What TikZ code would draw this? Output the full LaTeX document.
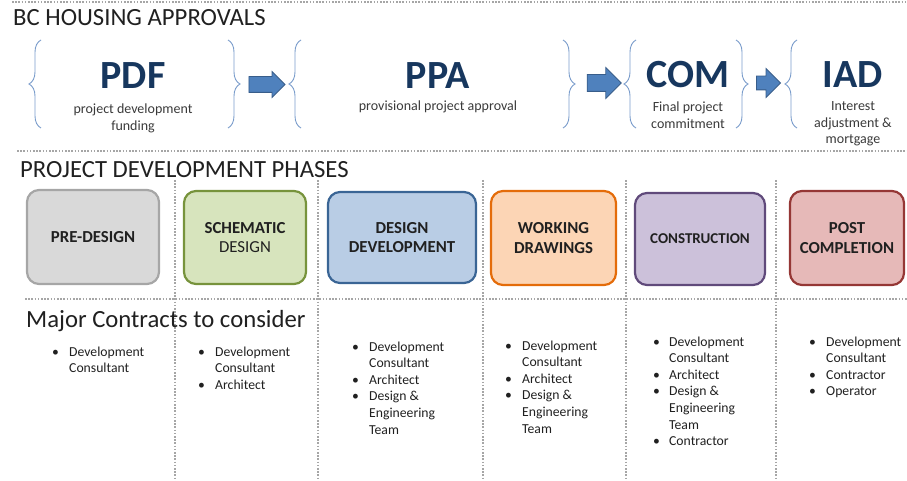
\documentclass[tikz,border=0pt]{standalone}
\usepackage{fontspec}
\setmainfont{Carlito}
\usetikzlibrary{decorations.pathreplacing,shapes.arrows}
\definecolor{navy}{HTML}{17375E}
\definecolor{txt}{HTML}{202020}
\definecolor{subtxt}{HTML}{3A3A3A}
\definecolor{bracec}{HTML}{7A9CCB}
\definecolor{dotc}{HTML}{A6A6A6}
\definecolor{arrfill}{HTML}{4F81BD}
\definecolor{arrdraw}{HTML}{385D8A}
\definecolor{grayfill}{HTML}{D9D9D9}\definecolor{graydraw}{HTML}{A6A6A6}
\definecolor{greenfill}{HTML}{D7E4BD}\definecolor{greendraw}{HTML}{77933C}
\definecolor{bluefill}{HTML}{B9CDE5}\definecolor{bluedraw}{HTML}{3A6595}
\definecolor{orangefill}{HTML}{FCD5B5}\definecolor{orangedraw}{HTML}{E46C0A}
\definecolor{purplefill}{HTML}{CCC1DA}\definecolor{purpledraw}{HTML}{604A7B}
\definecolor{redfill}{HTML}{E6B9B8}\definecolor{reddraw}{HTML}{953735}
\begin{document}
\begin{tikzpicture}[x=1pt,y=-1pt,
  dotline/.style={draw=dotc, line width=1.6pt, dash pattern=on 1.6pt off 1.6pt},
  bracepath/.style={draw=bracec, line width=0.9pt, decorate, decoration={brace, amplitude=12pt}},
  acro/.style={font=\fontsize{40}{44}\selectfont\bfseries, text=navy, anchor=base, inner sep=0},
  subt/.style={font=\fontsize{14}{16.3}\selectfont, text=subtxt, anchor=base, inner sep=0},
  head/.style={font=\fontsize{24.7}{28}\selectfont, text=txt, anchor=base west, inner sep=0},
  phasebox/.style={rounded corners=12pt, line width=2.2pt, align=center, font=\fontsize{16.8}{19.5}\selectfont\bfseries, text=txt, inner sep=0},
  blist/.style={font=\fontsize{13.7}{16.6}\selectfont, text=txt, anchor=base west, inner sep=0},
  blockarrow/.style={single arrow, fill=arrfill, draw=arrdraw, line width=0.8pt, inner xsep=0, single arrow tip angle=90}
]
\useasboundingbox (0,0) rectangle (907,481);

% dotted separators
\draw[dotline] (12,2) -- (907,2);
\draw[dotline] (17,151) -- (907,151);
\draw[dotline] (25,299) -- (907,299);
\foreach \xx in {175,318,483,626,776} \draw[dotline] (\xx,180) -- (\xx,481);

% headings
\node[head] (h1) at (13,26) {BC HOUSING APPROVALS};
\node[head] (h2) at (20,178) {PROJECT DEVELOPMENT PHASES};
\node[head] (h3) at (26,327) {Major Contracts to consider};

% approval groups
\draw[bracepath] (41,128) -- (41,40);
\draw[bracepath] (228,40) -- (228,128);
\node[acro] (pdf) at (133,89) {PDF};
\node[subt] (pdfs) at (133,114) {\begin{tabular}[t]{@{}c@{}}project development\\funding\end{tabular}};

\draw[bracepath] (301,128) -- (301,40);
\draw[bracepath] (563,40) -- (563,128);
\node[acro] (ppa) at (438,89) {PPA};
\node[subt] (ppas) at (438,111) {provisional project approval};

\draw[bracepath] (636,128) -- (636,40);
\draw[bracepath] (736,40) -- (736,128);
\node[acro] (com) at (688,88) {COM};
\node[subt] (coms) at (688,112) {\begin{tabular}[t]{@{}c@{}}Final project\\commitment\end{tabular}};

\draw[bracepath] (797,128) -- (797,40);
\node[acro] (iad) at (853,88) {IAD};
\node[subt] (iads) at (853,111) {\begin{tabular}[t]{@{}c@{}}Interest\\adjustment \&\\mortgage\end{tabular}};

% block arrows
\node[blockarrow, inner ysep=7.5pt, single arrow head extend=5pt, minimum height=36pt] (ar1) at (263,84.5) {};
\node[blockarrow, inner ysep=8pt, single arrow head extend=7pt, minimum height=34pt] (ar2) at (600,83) {};
\node[blockarrow, inner ysep=6.5pt, single arrow head extend=7.5pt, minimum height=24pt] (ar3) at (765,83) {};

% phases
\node[phasebox, fill=grayfill, draw=graydraw, minimum width=132pt, minimum height=94pt] (pre) at (93,237) {PRE-DESIGN};
\node[phasebox, fill=greenfill, draw=greendraw, minimum width=122pt, minimum height=93pt] (sch) at (245,237.5) {SCHEMATIC\\\mdseries DESIGN};
\node[phasebox, fill=bluefill, draw=bluedraw, minimum width=148pt, minimum height=91pt] (dd) at (402,237.5) {DESIGN\\DEVELOPMENT};
\node[phasebox, fill=orangefill, draw=orangedraw, minimum width=125pt, minimum height=94pt] (wd) at (553.5,238) {WORKING\\DRAWINGS};
\node[phasebox, fill=purplefill, draw=purpledraw, minimum width=130pt, minimum height=92pt, font=\fontsize{15}{19}\selectfont\bfseries] (con) at (700,239) {CONSTRUCTION};
\node[phasebox, fill=redfill, draw=reddraw, minimum width=114pt, minimum height=94pt] (post) at (847,238) {POST\\COMPLETION};

% contract lists
\node[blist] (l1) at (52,356) {\begin{tabular}[t]{@{}p{17pt}@{}l@{}}\textbullet & Development\\ & Consultant\end{tabular}};
\node[blist] (l2) at (198,356) {\begin{tabular}[t]{@{}p{17pt}@{}l@{}}\textbullet & Development\\ & Consultant\\\textbullet & Architect\end{tabular}};
\node[blist] (l3) at (352,351) {\begin{tabular}[t]{@{}p{17pt}@{}l@{}}\textbullet & Development\\ & Consultant\\\textbullet & Architect\\\textbullet & Design \&\\ & Engineering\\ & Team\end{tabular}};
\node[blist] (l4) at (505,350) {\begin{tabular}[t]{@{}p{17pt}@{}l@{}}\textbullet & Development\\ & Consultant\\\textbullet & Architect\\\textbullet & Design \&\\ & Engineering\\ & Team\end{tabular}};
\node[blist] (l5) at (653,346) {\begin{tabular}[t]{@{}p{16pt}@{}l@{}}\textbullet & Development\\ & Consultant\\\textbullet & Architect\\\textbullet & Design \&\\ & Engineering\\ & Team\\\textbullet & Contractor\end{tabular}};
\node[blist] (l6) at (809,346) {\begin{tabular}[t]{@{}p{17pt}@{}l@{}}\textbullet & Development\\ & Consultant\\\textbullet & Contractor\\\textbullet & Operator\end{tabular}};
\end{tikzpicture}
\end{document}
